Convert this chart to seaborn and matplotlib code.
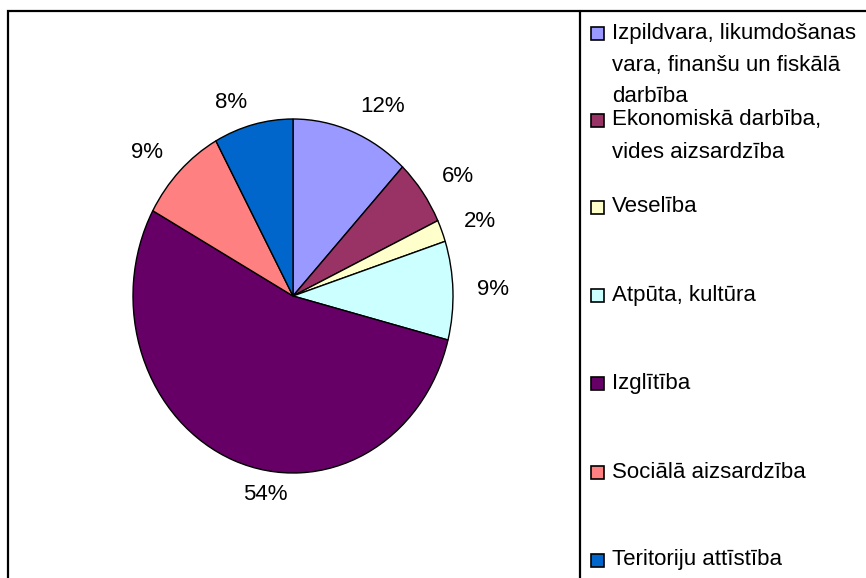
import matplotlib
matplotlib.use("Agg")
import matplotlib.pyplot as plt
import seaborn as sns
from matplotlib.patches import Rectangle
from matplotlib.lines import Line2D

categories = [
    "Izpildvara, likumdošanas\nvara, finanšu un fiskālā\ndarbība",
    "Ekonomiskā darbība,\nvides aizsardzība",
    "Veselība",
    "Atpūta, kultūra",
    "Izglītība",
    "Sociālā aizsardzība",
    "Teritoriju attīstība",
]
shares = [12, 6, 2, 9, 54, 9, 8]
pct_labels = ["12%", "6%", "2%", "9%", "54%", "9%", "8%"]
colors = ["#9999FF", "#993366", "#FFFFCC", "#CCFFFF", "#660066", "#FF8080", "#0066CC"]

sns.set_theme(style="white")
plt.rcParams["font.family"] = ["Liberation Sans", "DejaVu Sans"]

W, H = 866, 578
fig = plt.figure(figsize=(W / 100, H / 100), dpi=100)
fig.patch.set_facecolor("white")

def fx(px):
    return px / W

def fy(py):
    return 1 - py / H

# pie axes (elliptical pie like the original)
left, top, right, bottom = 133, 119, 453, 473
ax = fig.add_axes([fx(left), fy(bottom), fx(right - left), (bottom - top) / H])
wedges, texts = ax.pie(
    shares,
    colors=colors,
    labels=pct_labels,
    startangle=90,
    counterclock=False,
    labeldistance=1.15,
    wedgeprops=dict(edgecolor="black", linewidth=1.0),
    textprops=dict(fontsize=16, color="black"),
    normalize=True,
)
ax.set_aspect("auto")
ax.set_xlim(-1, 1)
ax.set_ylim(-1, 1)
ax.axis("off")
# 54% label sits a bit further right/down in the original
t54 = texts[4]
x, y = t54.get_position()
t54.set_position((x + 0.25, y - 0.05))
t54.set_ha("center")
# 8% label slightly lower
t8 = texts[6]
x, y = t8.get_position()
t8.set_position((x, y - 0.02))

# outer frame
fig.add_artist(Rectangle((fx(8), fy(600)), fx(900), (600 - 11) / H,
                         transform=fig.transFigure, fill=False,
                         edgecolor="black", linewidth=1.6))
# legend box left edge
fig.add_artist(Line2D([fx(580), fx(580)], [fy(11), fy(600)],
                      transform=fig.transFigure, color="black", linewidth=1.6))

# legend entries (first-line y in pixels)
entry_y = [33, 120, 207, 295, 383, 472, 560]
line_gap = 32
for cat, col, ey in zip(categories, colors, entry_y):
    fig.add_artist(Rectangle((fx(591), fy(ey + 7)), fx(13), 13 / H,
                             transform=fig.transFigure, facecolor=col,
                             edgecolor="black", linewidth=1.2))
    for k, line in enumerate(cat.split("\n")):
        fig.text(fx(612), fy(ey + k * line_gap), line, fontsize=16,
                 va="center", ha="left", color="black")

fig.savefig("out.png", dpi=100)
